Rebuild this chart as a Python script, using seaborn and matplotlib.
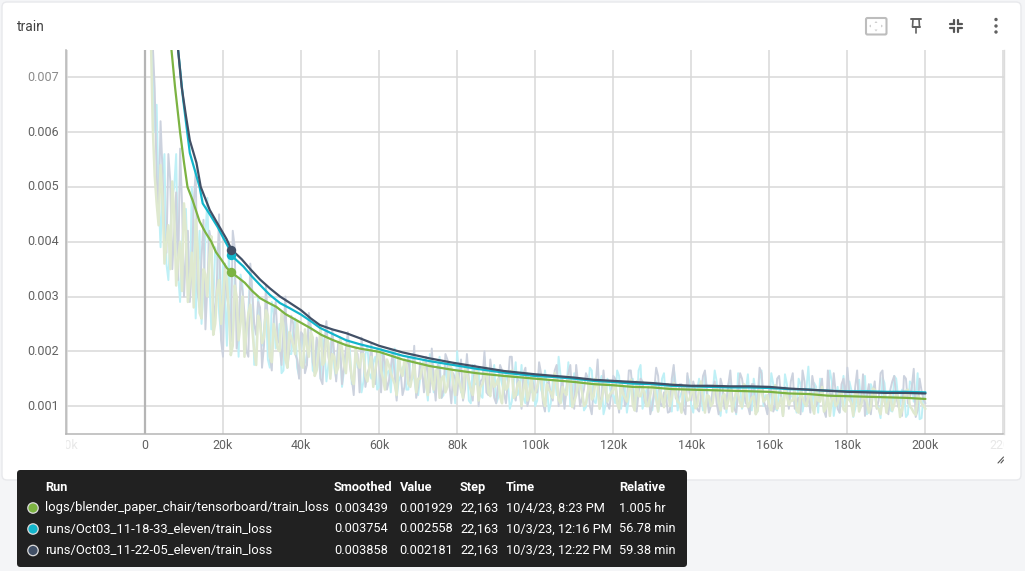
import numpy as np
import pandas as pd
import matplotlib
matplotlib.use("Agg")
import matplotlib.pyplot as plt
from matplotlib.patches import FancyBboxPatch, Circle, Polygon
from matplotlib.transforms import Bbox
import seaborn as sns

# ---- data (loss values in units of 1e-5, steps in thousands) ----
raw_steps_k = [i for i in range(1, 201)]
raw_half_steps_k = [i + 0.5 for i in range(0, 200)]

raw_green = [
 900,610,470,540,360,430,510,320,400,470, 290,380,440,270,350,300,410,250,330,290,
 330,193,320,220,300,235,285,200,265,215, 275,190,250,205,270,185,235,210,255,175,
 240,190,225,165,245,180,215,195,160,225, 175,215,150,205,170,195,145,190,165,205,
 150,185,160,140,195,155,175,135,180,150, 170,140,185,130,165,150,125,175,140,160,
 130,170,145,120,165,135,155,125,160,140, 118,155,135,165,120,145,130,110,155,125,
 150,115,140,125,160,112,135,120,150,108, 140,125,105,150,118,135,110,145,120,130,
 105,140,115,130,102,145,118,125,100,138, 112,128,98,140,115,122,105,135,110,125,
 96,132,112,120,100,138,108,118,95,130, 110,122,98,135,105,118,92,128,112,100,
 125,95,115,132,102,110,92,128,105,118, 98,130,108,90,122,112,100,128,94,115,
 105,125,90,118,108,98,130,95,112,88, 122,102,115,92,128,100,88,118,105,95]
raw_green_half = [
 1000,780,520,430,480,400,350,450,370,310, 420,330,280,390,260,340,370,230,310,250,
 350,270,210,300,250,190,270,240,175,250, 225,265,180,230,200,245,170,225,195,215,
 170,210,235,155,200,175,225,150,190,170, 205,160,185,140,180,195,155,170,135,185,
 165,130,175,150,120,165,185,140,155,125, 150,180,120,145,165,115,155,135,170,120,
 145,115,160,130,150,110,140,170,118,135, 150,105,130,160,115,140,100,150,125,110,
 135,155,100,130,115,145,105,125,155,98, 120,142,100,128,112,150,95,130,108,125,
 140,95,122,108,148,92,118,132,100,120, 135,90,115,128,100,142,108,88,125,112,
 130,100,145,88,118,105,135,92,122,110, 90,128,105,140,98,115,85,130,108,120,
 92,138,104,82,120,110,130,88,116,100, 124,86,110,135,96,82,118,105,128,90,
 112,82,126,100,115,88,132,98,85,120, 108,92,125,80,112,130,95,84,115,100]

raw_cyan = [
 1100,720,650,390,560,330,480,560,290,450, 340,500,260,420,310,480,240,390,270,360,
 210,256,340,190,320,230,350,175,300,210, 280,170,270,215,160,260,195,240,170,230,
 185,255,165,220,150,205,175,235,150,200, 165,225,140,195,175,145,210,150,190,135,
 190,160,125,205,145,170,130,185,150,120, 175,140,195,125,160,115,180,135,150,200,
 125,160,110,175,140,120,190,130,150,105, 165,125,145,108,180,130,115,160,125,100,
 170,120,140,105,155,190,115,135,100,160, 125,145,98,170,110,130,155,100,140,120,
 165,95,135,115,150,100,175,110,125,92, 145,105,160,120,90,140,115,130,155,100,
 125,150,92,135,110,165,100,125,88,145, 115,160,95,130,105,150,90,165,120,100,
 140,92,125,158,105,118,88,140,112,172, 98,135,150,90,122,145,105,88,155,115,
 130,95,148,110,85,140,120,98,152,105, 92,155,115,130,80,145,108,160,78,125]
raw_cyan_half = [
 1200,850,600,480,520,360,420,500,340,390, 460,300,430,350,250,410,330,280,370,230,
 300,380,220,280,340,200,270,310,190,260, 240,185,290,205,250,165,235,195,260,155,
 215,175,240,160,190,225,145,205,170,215, 135,185,205,150,170,125,195,160,180,130,
 205,140,165,185,115,155,175,130,195,125, 150,185,110,165,135,190,120,145,170,105,
 155,125,185,105,140,165,115,150,130,175, 115,140,160,95,145,120,175,105,135,155,
 110,130,165,90,145,120,155,100,180,110, 130,150,92,125,165,105,140,85,150,118,
 105,155,125,88,140,108,165,95,130,115, 120,90,150,108,135,170,92,125,100,145,
 88,130,115,160,95,125,145,82,120,140, 105,85,135,110,158,92,125,148,100,118,
 160,95,128,82,140,118,105,150,90,132, 110,142,88,125,100,165,82,135,115,98,
 145,80,122,108,155,92,130,100,78,142, 115,90,150,100,128,85,140,110,76,118]

raw_dark = [
 1250,760,520,620,400,560,350,490,570,300, 420,350,530,280,440,320,400,260,450,190,
 300,218,390,240,310,200,360,250,290,170, 320,190,260,220,175,300,200,250,185,235,
 160,270,180,225,150,215,190,240,145,210, 175,235,150,200,125,190,160,215,140,180,
 200,130,170,155,195,120,175,145,210,135, 165,190,125,150,175,115,195,140,160,120,
 185,130,150,110,170,145,200,120,155,105, 175,125,145,190,110,135,160,100,150,125,
 180,105,140,120,165,100,150,130,175,95, 140,115,160,100,135,185,110,125,95,155,
 118,145,100,165,125,90,150,110,135,100, 170,105,125,88,150,115,140,95,160,110,
 130,90,155,120,100,145,85,135,110,165, 95,125,150,105,85,140,115,160,100,130,
 90,150,118,135,95,160,108,85,145,120, 155,100,130,92,165,110,125,88,150,170,
 105,135,92,158,118,85,145,110,165,95, 130,155,100,82,150,115,168,92,128,105]
raw_dark_half = [
 1400,820,680,450,530,380,510,420,330,470, 380,290,470,310,370,240,420,290,340,220,
 360,280,420,205,330,270,190,310,230,280, 210,255,165,290,215,240,170,265,195,150,
 230,175,245,165,205,140,255,170,195,215, 140,205,175,120,195,225,135,170,150,205,
 125,180,145,200,110,165,135,190,150,115, 180,125,155,205,110,170,130,185,105,150,
 160,110,195,130,175,100,150,125,185,115, 140,165,105,190,125,150,95,170,115,140,
 125,160,90,145,110,175,130,95,160,120, 175,100,130,150,85,140,115,165,105,125,
 150,88,135,110,165,95,125,145,100,85, 130,155,100,120,90,175,110,140,85,125,
 145,95,120,165,88,130,105,150,95,140, 115,88,160,125,100,140,90,170,110,85,
 130,100,155,82,125,145,95,115,165,100, 88,135,110,150,80,125,160,95,140,115,
 125,90,165,105,82,140,120,95,160,108, 85,145,118,92,155,105,135,80,150,112]

smooth_green_k = [6.0,6.8,7.7,9,10.0,10.9,12.2,14,15.5,17,18.2,19.6,21,22.163,24,25.6,27.5,29.5,31.5,33.7,36,40,42.5,45.2,48,51.6,55,60,66,73,79,85,92,100,105,110,115,120,125,130,135,140,145,150,155,160,165,170,175,180,185,190,195,200]
smooth_green = [840,750,683,600,545,500,476,437,417,400,381,367,352,343.9,334,325,310,297,289,281,268,252,242,230,221,211,205,199,185,173,166,160,155,150,147,144,140,138,135,134,131,130,129,128,127,126,123,122,119,118,117,116,115,113]

smooth_cyan_k = [7.0,8.5,9.8,11.5,12.8,14,14.8,16.8,18.7,20,21.3,22.163,23.5,25.2,27.5,29.5,32,34.6,37,40,42.5,44.8,48,51.6,55,60,66,73,79,85,92,100,105,110,115,120,125,130,135,140,145,150,155,160,165,170,175,180,185,190,195,200]
smooth_cyan = [880,750,659,562,530,500,470,448,426,408,391,375.4,366,355,336,321,303,288,279,267,255,243,232,220,213,204,192,182,175,168,161,155,153,150,146,144,141,140,137,136,135,134,134,133,131,130,128,127,127,126,126,125]

smooth_dark_k = [7.0,8.5,9.4,10.5,11.5,13.2,14.3,15.4,16.6,18.3,20.9,22.163,24.8,27,29.5,32,34.6,37,40,42.5,44.8,48,51.6,55,60,66,73,79,85,92,100,105,110,115,120,125,130,135,140,145,150,155,160,165,170,175,180,185,190,195,200]
smooth_dark = [880,750,683,630,585,544,500,480,458,437,405,385.8,368,350,331,315,300,289,275,260,248,240,233,224,210,198,187,179,172,164,158,155,152,148,146,144,142,139,137,137,136,136,135,132,130,128,126,125,124,124,123]

hover_step_k = 22.163

x_ticks_k = [-20,0,20,40,60,80,100,120,140,160,180,200,220]
x_tick_labels = ["-20k","0","20k","40k","60k","80k","100k","120k","140k","160k","180k","200k","220k"]
y_ticks = [0.001,0.002,0.003,0.004,0.005,0.006,0.007]
y_tick_labels = ["0.001","0.002","0.003","0.004","0.005","0.006","0.007"]

legend_headers = ["Run","Smoothed","Value","Step","Time","Relative"]
legend_rows = [
 ["logs/blender_paper_chair/tensorboard/train_loss","0.003439","0.001929","22,163","10/4/23, 8:23 PM","1.005 hr"],
 ["runs/Oct03_11-18-33_eleven/train_loss","0.003754","0.002558","22,163","10/3/23, 12:16 PM","56.78 min"],
 ["runs/Oct03_11-22-05_eleven/train_loss","0.003858","0.002181","22,163","10/3/23, 12:22 PM","59.38 min"],
]
GREEN, CYAN, DARK = "#7cb342", "#12b5cb", "#425066"
PALE_GREEN, PALE_CYAN, PALE_DARK = "#dfe9cf", "#bff0f6", "#ccd2de"

sns.set_theme(style="white")
plt.rcParams["font.family"] = ["Roboto", "DejaVu Sans"]

W, H = 1025, 571
fig = plt.figure(figsize=(W/100, H/100), dpi=100, facecolor="#f4f5f7")

def merged_df(ys, ys_half):
    xs = np.array(list(raw_steps_k) + list(raw_half_steps_k))
    vals = np.array(list(ys) + list(ys_half))
    order = np.argsort(xs)
    return pd.DataFrame({"step": xs[order]*1000.0, "loss": vals[order]*1e-5})

def to_df(xs, ys):
    return pd.DataFrame({"step": np.array(xs)*1000.0, "loss": np.array(ys)*1e-5})

# background card
bg = fig.add_axes([0,0,1,1], zorder=0); bg.set_xlim(0,W); bg.set_ylim(H,0); bg.axis("off")
bg.add_patch(FancyBboxPatch((2,2),1019,478, boxstyle="round,pad=0,rounding_size=5", fc="white", ec="#e8e9ec", lw=1))

# chart
L,R,T,B = 66,1003.5,50,434
ax = fig.add_axes([L/W, 1-B/H, (R-L)/W, (B-T)/H], zorder=1, facecolor="none")
ax.set_axisbelow(True)
ax.grid(True, color="#d9d9d9", lw=1.1)
for c, ys, yh, w in [(PALE_CYAN, raw_cyan, raw_cyan_half, 1.4), (PALE_DARK, raw_dark, raw_dark_half, 1.4), (PALE_GREEN, raw_green, raw_green_half, 1.8)]:
    sns.lineplot(data=merged_df(ys, yh), x="step", y="loss", color=c, lw=w, estimator=None, ax=ax, zorder=3)
for c, xs, ys in [(GREEN, smooth_green_k, smooth_green), (CYAN, smooth_cyan_k, smooth_cyan), (DARK, smooth_dark_k, smooth_dark)]:
    sns.lineplot(data=to_df(xs, ys), x="step", y="loss", color=c, lw=1.6, estimator=None, ax=ax, zorder=4)
hover_vals = [float(r[1]) for r in legend_rows]
for c, v in zip([GREEN, CYAN, DARK], hover_vals):
    sns.scatterplot(x=[hover_step_k*1000], y=[v], color=c, s=46, linewidth=0, ax=ax, zorder=5)
ax.axvline(0, color="#b5b5b5", lw=1.6, zorder=2)
ax.set_xlim(-20230, 220000)
ax.set_ylim(0.00049, 0.0075)
ax.set_xlabel(""); ax.set_ylabel("")
ax.set_xticks([t*1000 for t in x_ticks_k]); ax.set_xticklabels([])
ax.set_yticks(y_ticks); ax.set_yticklabels([])
ax.tick_params(length=0)
ax.spines["top"].set_visible(False)
ax.spines["right"].set_color("#dcdcdc"); ax.spines["right"].set_linewidth(1.0)
for s in ["left","bottom"]:
    ax.spines[s].set_visible(True); ax.spines[s].set_color("#b5b5b5"); ax.spines[s].set_linewidth(1.1)

# tick labels (outer ones are clipped at the plot edge, as in the reference)
clip = Bbox([[L,0],[R,H]])
trans_x = ax.get_xaxis_transform()
for t, lab in zip(x_ticks_k, x_tick_labels):
    outer = t in (-20, 220)
    tx = ax.text(t*1000, -0.03, lab, transform=trans_x, ha="center", va="center", fontsize=8.9,
                 color="#e8e8e8" if outer else "#616161", clip_on=outer)
    if outer:
        tx.set_clip_box(clip)
trans_y = ax.get_yaxis_transform()
for v, lab in zip(y_ticks, y_tick_labels):
    ax.text(-0.0075, v, lab, transform=trans_y, ha="right", va="center", fontsize=9,
            color="#8a8a8a" if lab == "0.007" else "#616161")

# foreground overlay
fg = fig.add_axes([0,0,1,1], zorder=2, facecolor="none"); fg.set_xlim(0,W); fg.set_ylim(H,0); fg.axis("off")
fg.text(17, 27, "train", fontsize=10, color="#424242", va="center", ha="left")

# toolbar icons
fg.add_patch(FancyBboxPatch((866,18),20.5,16.5, boxstyle="round,pad=0,rounding_size=1.5", fc="none", ec="#bdbdbd", lw=1.5))
for pts in [[(876,21),(877.5,23),(874.5,23)],[(876,31.5),(877.5,29.5),(874.5,29.5)],[(869,26),(871,24.5),(871,27.5)],[(883,26),(881,24.5),(881,27.5)]]:
    fg.add_patch(Polygon(pts, fc="#cfcfcf", ec="none"))
ic = "#616161"
fg.plot([911,921],[19,19],color=ic,lw=1.4); fg.plot([912.5,919.5],[27,27],color=ic,lw=1.4)
fg.plot([913,912.5],[19,27],color=ic,lw=1.2); fg.plot([919,919.5],[19,27],color=ic,lw=1.2)
fg.plot([916,916],[27,33],color=ic,lw=1.2)
for sx, sy in [(-1,-1),(1,-1),(-1,1),(1,1)]:
    cx, cy = 956+sx*1.8, 26+sy*1.8
    fg.plot([cx+sx*4.5,cx,cx],[cy,cy,cy+sy*4.5],color="#555555",lw=1.6,solid_joinstyle="miter")
for yy in [19.5,26,32]:
    fg.add_patch(Circle((996,yy),1.7,fc="#616161",ec="none"))
fg.plot([998,1003.5],[463,457],color="#555555",lw=0.8); fg.plot([1001,1003.5],[463,460],color="#555555",lw=0.8)

# legend / tooltip
fg.add_patch(FancyBboxPatch((17,470),670,97, boxstyle="round,pad=0,rounding_size=3.5", fc="#212121", ec="none"))
col_x = [45,334,399.5,460,506,619]
for x, h in zip(col_x, legend_headers):
    fg.text(x, 487.5, h, color="white", fontsize=9.2, fontweight="bold", va="center", ha="left")
for yy, row, c in zip([508,529,550.5], legend_rows, [GREEN,"#12b5cb",DARK]):
    fg.add_patch(Circle((33,yy),5.2,fc=c,ec="#dcdcdc",lw=0.9))
    for i, (x, s) in enumerate(zip(col_x, row)):
        fg.text(x, yy, s, color="white", fontsize=9.4 if i == 0 else 9.2, va="center", ha="left")

fig.savefig("out.png", dpi=100, facecolor=fig.get_facecolor())
